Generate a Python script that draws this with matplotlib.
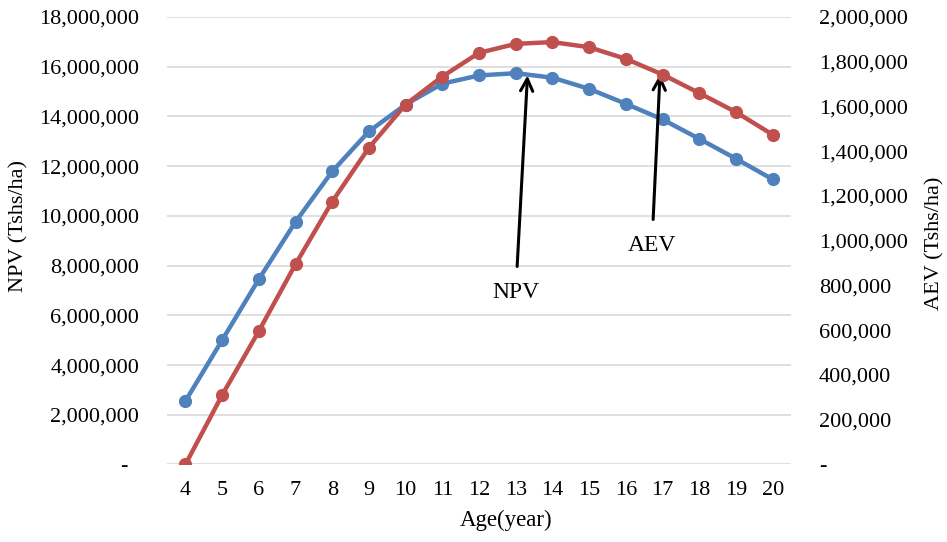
import matplotlib
matplotlib.use("Agg")
import matplotlib.pyplot as plt
from matplotlib.ticker import FuncFormatter, MultipleLocator

plt.rcParams['font.family'] = ['Liberation Serif', 'DejaVu Serif']

ages = [4, 5, 6, 7, 8, 9, 10, 11, 12, 13, 14, 15, 16, 17, 18, 19, 20]
npv = [2550000, 5000000, 7450000, 9760000, 11790000, 13400000, 14480000, 15320000,
       15650000, 15740000, 15560000, 15110000, 14510000, 13880000, 13100000, 12300000, 11470000]
aev = [0, 310000, 596000, 895000, 1175000, 1416000, 1609000, 1734000,
       1840000, 1880000, 1888000, 1865000, 1813000, 1743000, 1660000, 1575000, 1474000]

blue = '#4F81BD'
red = '#C0504D'
FS = 16

fig = plt.figure(figsize=(9.47, 5.42), dpi=100)
ax = fig.add_axes([0.1764, 0.143, 0.6589, 0.8256])
ax2 = ax.twinx()

ax.plot(ages, npv, color=blue, lw=3.2, marker='o', ms=8.5, zorder=3)
ax2.plot(ages, aev, color=red, lw=3.2, marker='o', ms=8.5, zorder=3)

ax.set_xlim(3.5, 20.5)
ax.set_ylim(0, 18000000)
ax2.set_ylim(0, 2000000)
ax.yaxis.set_major_locator(MultipleLocator(2000000))
ax2.yaxis.set_major_locator(MultipleLocator(200000))
ax.set_xticks(ages)

def fmt(v, pos):
    if abs(v) < 1:
        return '-  '
    return '{:,.0f}'.format(v)

def fmt2(v, pos):
    if abs(v) < 1:
        return '-'
    return '{:,.0f}'.format(v)

ax.yaxis.set_major_formatter(FuncFormatter(fmt))
ax2.yaxis.set_major_formatter(FuncFormatter(fmt2))

ax.grid(axis='y', color='#D9D9D9', lw=1.2, zorder=0)
ax.set_axisbelow(True)
for a in (ax, ax2):
    for s in a.spines.values():
        s.set_visible(False)
ax.tick_params(axis='both', length=0, labelsize=FS)
ax.tick_params(axis='y', pad=20)
ax.tick_params(axis='x', pad=12)
ax2.tick_params(axis='y', length=0, labelsize=FS, pad=20)

ax.set_xlabel('Age(year)', fontsize=16.5)
ax.xaxis.set_label_coords(0.543, -0.102)
ax.set_ylabel('NPV (Tshs/ha)', fontsize=FS, va='center')
ax.yaxis.set_label_coords(-0.238, 0.533)
ax2.set_ylabel('AEV (Tshs/ha)', fontsize=FS, rotation=90, va='center')
ax2.yaxis.set_label_coords(1.231, 0.495)

ax.annotate('NPV', xy=(13.32, 15650000), xytext=(13.0, 6930000),
            ha='center', va='center', fontsize=17,
            arrowprops=dict(arrowstyle='->', color='black', lw=2.2,
                            mutation_scale=22, shrinkA=9, shrinkB=0), zorder=5)
ax.annotate('AEV', xy=(16.93, 15690000), xytext=(16.71, 8820000),
            ha='center', va='center', fontsize=17,
            arrowprops=dict(arrowstyle='->', color='black', lw=2.2,
                            mutation_scale=22, shrinkA=9, shrinkB=0), zorder=5)

fig.savefig('out.png', dpi=100)
